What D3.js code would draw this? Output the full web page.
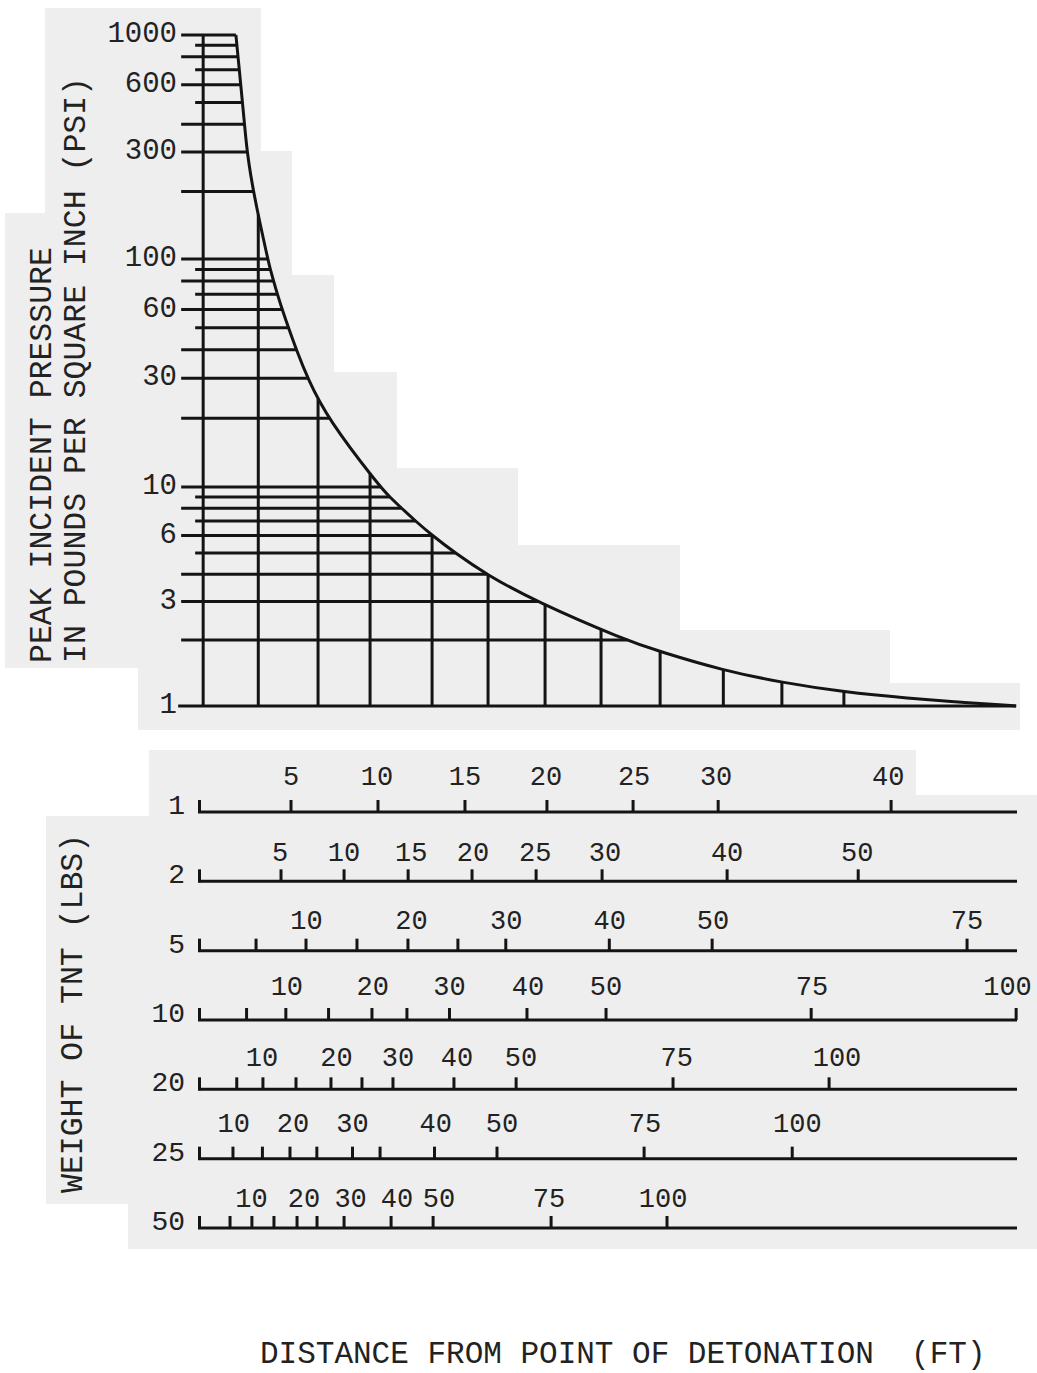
<!DOCTYPE html>
<html><head><meta charset="utf-8">
<script src="https://cdn.jsdelivr.net/npm/d3@7"></script>
<style>
html,body{margin:0;padding:0;background:#fff;}
svg{display:block;}
text{font-family:"Liberation Mono","DejaVu Sans Mono",monospace;fill:#222;}
</style></head><body>
<svg id="chart" width="1037" height="1373"></svg>
<script>
// ---------------- DATA ----------------
// Upper nomogram: peak incident pressure (psi) vs scaled distance Z (ft / lb^(1/3))
const pressureGrid = [1000,900,800,700,600,500,400,300,200,100,90,80,70,60,50,40,30,20,10,9,8,7,6,5,4,3,2,1];
const pressureTickLabels = [1000,600,300,100,60,30,10,6,3,1];
const distanceGrid = [0,3.2,6.67,9.69,13.29,16.54,19.85,23.1,26.53,30.2,33.6,37.2];
const curveZ = [1.9,1.96,2.02,2.1,2.18,2.28,2.4,2.55,2.9,3.75,3.9,4.09,4.31,4.59,4.95,5.41,6.06,7.21,10.27,10.84,11.52,12.32,13.31,14.62,16.41,19.31,24.51,26.5,30.2,33.6,37.2,41.0,44.0,47.2];
const curveP = [1000,900,800,700,600,500,400,300,200,100,90,80,70,60,50,40,30,20,10,9,8,7,6,5,4,3,2,1.774,1.452,1.280,1.158,1.084,1.041,1.0];

// Lower scales: distance (ft) for each TNT weight, and where each tick sits on the Z axis
const tntWeights = ["1","2","5","10","20","25","50"];
const rowTickDistances = [
  [5,10,15,20,25,30,40],
  [5,10,15,20,25,30,40,50],
  [5,10,15,20,25,30,40,50,75],
  [5,10,15,20,25,30,40,50,75,100],
  [5,10,15,20,25,30,40,50,75,100],
  [5,10,15,20,25,30,40,50,75,100],
  [5,10,15,20,25,30,40,50,75,100]];
const rowTickZ = [
  [5.10,10.15,15.20,19.96,24.96,29.90,39.94],
  [4.52,8.18,11.90,15.61,19.33,23.16,30.42,38.03],
  [3.07,5.97,8.93,11.89,14.79,17.57,23.58,29.55,44.35],
  [2.52,4.80,7.28,9.80,11.83,14.30,18.80,23.39,35.30,47.20],
  [1.95,3.47,5.39,7.42,9.22,11.02,14.56,18.17,27.28,36.34],
  [1.73,3.44,5.04,6.60,8.67,10.27,13.43,17.06,25.60,34.20],
  [1.56,2.83,4.11,5.45,6.61,8.18,10.91,13.35,20.20,26.93]];
const rowLabelTexts = [
  ["5","10","15","20","25","30","40"],
  ["5","10","15","20","25","30","40","50"],
  ["10","20","30","40","50","75"],
  ["10","20","30","40","50","75","100"],
  ["10","20","30","40","50","75","100"],
  ["10","20","30","40","50","75","100"],
  ["10","20","30","40","50","75","100"]];
const rowLabelZ = [
  [5.10,10.09,15.20,19.90,25.02,29.78,39.77],
  [4.46,8.18,12.08,15.67,19.28,23.33,30.42,37.97],
  [6.0,12.1,17.6,23.6,29.6,44.35],
  [4.86,9.85,14.3,18.86,23.39,35.35,46.7],
  [3.41,7.74,11.31,14.74,18.45,27.5,36.8],
  [1.78,5.22,8.67,13.5,17.35,25.65,34.5],
  [2.80,5.85,8.56,11.25,13.69,20.08,26.7]];

const titleX = "DISTANCE FROM POINT OF DETONATION  (FT)";
const titleY1 = "PEAK INCIDENT PRESSURE";
const titleY2 = "IN POUNDS PER SQUARE INCH (PSI)";
const titleW = "WEIGHT OF TNT (LBS)";

// ---------------- LAYOUT / STYLE ----------------
const INK = "#141414";
const SW = 3;
// scanned-paper background patches (decoration only)
const paper = [
  [45,8,216,143],[45,151,247,124],[5,213,287,62],[5,275,329,97],[5,372,392,96],
  [5,468,513,77],[5,545,675,85],[5,630,885,38],[138,668,752,15],[138,683,882,47],
  [149,750,767,66],[149,795,888,21],[46,816,991,388],[128,1204,909,45]];
const rowLift = [27,20,22,25,23,27,21];

const svg = d3.select("#chart");
svg.append("g").selectAll("rect").data(paper).join("rect")
  .attr("x",d=>d[0]).attr("y",d=>d[1]).attr("width",d=>d[2]).attr("height",d=>d[3])
  .attr("fill","#eeeeee");

// ---------------- SCALES ----------------
const x = d3.scaleLinear().domain([-0.3, 47.25]).range([198, 1017]);
const y = d3.scaleLog().domain([1,10,100,1000]).range([706,487,259,35]);
const rowY = d3.scalePoint().domain(tntWeights).range([812,1228]);

// ---------------- UPPER CHART ----------------
const upper = svg.append("g");
const gridG = upper.append("g");
const curvePts = curveZ.map((z,i)=>[z,curveP[i]]);
const curvePath = upper.append("path").datum(curvePts)
  .attr("d", d3.line().x(d=>x(d[0])).y(d=>y(d[1])).curve(d3.curveBasis))
  .attr("fill","none").attr("stroke",INK).attr("stroke-width",SW);

// sample the drawn curve so grid lines stop exactly on it
const node = curvePath.node();
const total = node.getTotalLength();
const samples = [];
for (let s=0; s<=total; s+=0.5) { const p=node.getPointAtLength(s); samples.push([p.x,p.y]); }
const last = node.getPointAtLength(total); samples.push([last.x,last.y]);
function curveXatY(yy){
  if (yy <= samples[0][1]) return samples[0][0];
  for (let i=1;i<samples.length;i++){
    if (samples[i][1] >= yy){
      const a=samples[i-1], b=samples[i];
      const t = (b[1]-a[1])===0 ? 0 : (yy-a[1])/(b[1]-a[1]);
      return a[0]+t*(b[0]-a[0]);
    }
  }
  return samples[samples.length-1][0];
}
function curveYatX(xx){
  if (xx <= samples[0][0]) return samples[0][1];
  for (let i=1;i<samples.length;i++){
    if (samples[i][0] >= xx){
      const a=samples[i-1], b=samples[i];
      const t = (b[0]-a[0])===0 ? 0 : (xx-a[0])/(b[0]-a[0]);
      return a[1]+t*(b[1]-a[1]);
    }
  }
  return samples[samples.length-1][1];
}

const x0 = x(0);
function isShort(p){ const lead = +String(p)[0]; return lead===5||lead===7||lead===9; }

gridG.append("g").selectAll("line").data(pressureGrid).join("line")
  .attr("x1",p=> p===1 ? x0-25 : (isShort(p) ? x0-8 : x0-22))
  .attr("x2",p=> curveXatY(y(p)))
  .attr("y1",p=>y(p)).attr("y2",p=>y(p))
  .attr("stroke",INK).attr("stroke-width",SW);

gridG.append("g").selectAll("line").data(distanceGrid).join("line")
  .attr("x1",z=>x(z)).attr("x2",z=>x(z))
  .attr("y1",y(1)).attr("y2",z=>curveYatX(x(z)))
  .attr("stroke",INK).attr("stroke-width",SW);

upper.append("g").selectAll("text").data(pressureTickLabels).join("text")
  .attr("x",177).attr("y",p=>y(p)-3).attr("dy","0.35em")
  .attr("text-anchor","end").attr("font-size",29)
  .text(p=>String(p));

// ---------------- LOWER SCALES ----------------
const rows = svg.append("g");
tntWeights.forEach((w,r)=>{
  const yy = rowY(w);
  const g = rows.append("g");
  g.append("line").attr("x1",x.range()[0]).attr("x2",x.range()[1])
    .attr("y1",yy).attr("y2",yy).attr("stroke",INK).attr("stroke-width",SW);
  g.append("line").attr("x1",x.range()[0]+1.5).attr("x2",x.range()[0]+1.5)
    .attr("y1",yy+1).attr("y2",yy-12).attr("stroke",INK).attr("stroke-width",SW);
  const ticks = rowTickDistances[r].map((d,i)=>({d, z: rowTickZ[r][i]}));
  g.selectAll("line.tick").data(ticks).join("line").attr("class","tick")
    .attr("x1",t=>x(t.z)).attr("x2",t=>x(t.z))
    .attr("y1",yy).attr("y2",yy-12).attr("stroke",INK).attr("stroke-width",SW);
  const labels = rowLabelTexts[r].map((t,i)=>({t, z: rowLabelZ[r][i]}));
  g.selectAll("text.lab").data(labels).join("text").attr("class","lab")
    .attr("x",l=>x(l.z)).attr("y",yy-rowLift[r])
    .attr("text-anchor","middle").attr("font-size",27).text(l=>l.t);
  g.append("text").attr("x",185).attr("y",yy+2)
    .attr("text-anchor","end").attr("font-size",28).text(w);
});

// ---------------- TITLES ----------------
svg.append("text").attr("x",260).attr("y",1363).attr("font-size",31)
  .style("white-space","pre").text(titleX);
svg.append("text").attr("transform","translate(51,663) rotate(-90)")
  .attr("font-size",31.5).text(titleY1);
svg.append("text").attr("transform","translate(85,663) rotate(-90)")
  .attr("font-size",31.5).text(titleY2);
svg.append("text").attr("transform","translate(82,1193) rotate(-90)")
  .attr("font-size",31.5).text(titleW);
</script>
</body></html>
